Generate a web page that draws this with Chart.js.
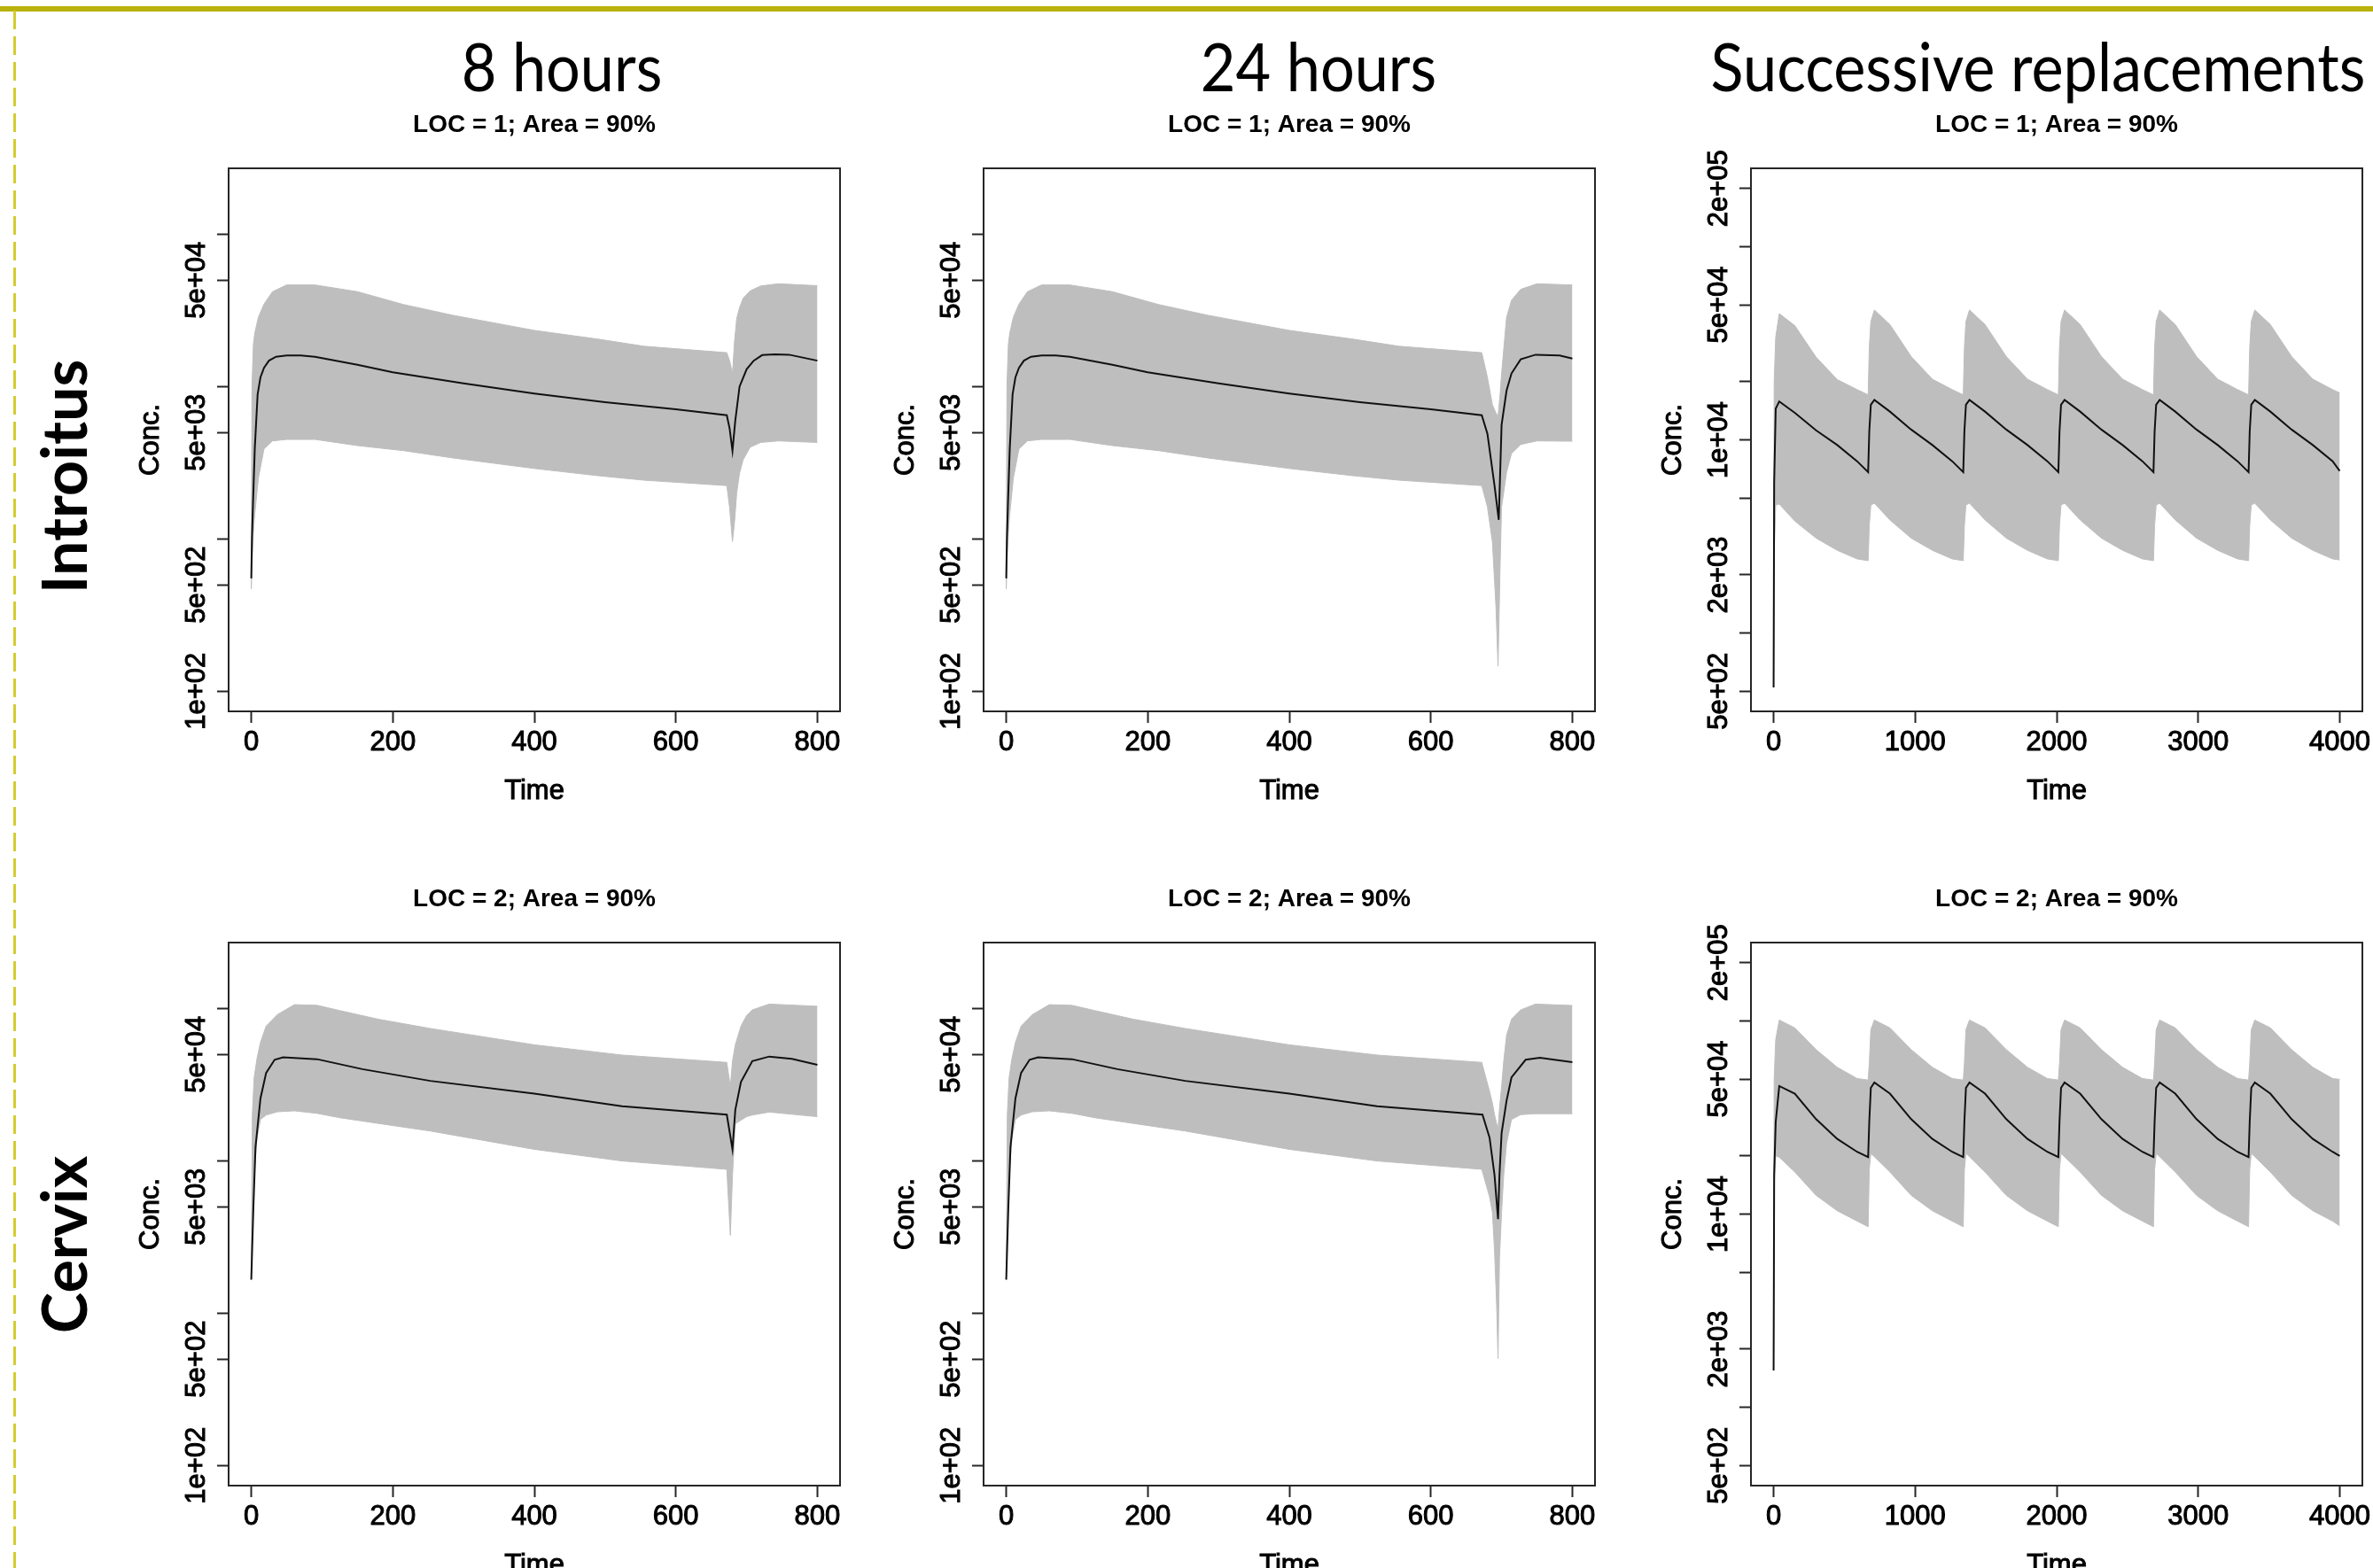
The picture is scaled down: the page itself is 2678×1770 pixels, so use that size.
<!DOCTYPE html>
<html>
<head>
<meta charset="utf-8">
<script src="https://cdn.jsdelivr.net/npm/chart.js@4.4.1/dist/chart.umd.min.js"></script>
<style>
  html, body { margin: 0; padding: 0; }
  body { width: 2678px; height: 1770px; overflow: hidden; position: relative; background: #fff; }
  .topline { position: absolute; left: 0; top: 7px; width: 2678px; height: 6px; background: #b8b20c; }
  .dashline { position: absolute; left: 15px; top: 12px; width: 3px; height: 1758px;
    background: repeating-linear-gradient(to bottom, #d3cd32 0px, #d3cd32 21px, transparent 21px, transparent 29px); }
  .coltitle { position: absolute; top: 36px; font-family: Lato, "Open Sans", sans-serif; font-size: 76px;
    line-height: 76px; white-space: nowrap; color: #000; transform: translateX(-50%) scaleX(0.9); }
  .rowlabel { position: absolute; font-family: Lato, "Open Sans", sans-serif; font-weight: 700; font-size: 70px;
    line-height: 70px; white-space: nowrap; color: #000; transform: translate(-50%, -50%) rotate(-90deg); }
</style>
</head>
<body>
<div class="topline"></div>
<div class="dashline"></div>
<div class="coltitle" style="left:634px">8 hours</div>
<div class="coltitle" style="left:1488px">24 hours</div>
<div class="coltitle" style="left:2300px">Successive replacements</div>
<div class="rowlabel" style="left:71px; top:538px">Introitus</div>
<div class="rowlabel" style="left:71px; top:1405px">Cervix</div>

<script>
/* ---------------------------------------------------------------------------
   Axis ticks and limits (R defaults: 4% range extension, log y axis)
   --------------------------------------------------------------------------- */
const hourTicks = [0, 200, 400, 600, 800];
const succTicks = [0, 1000, 2000, 3000, 4000];
const hourLimits = [0, 800];
const succLimits = [0, 4000];

const concTicksShort = [100, 500, 1000, 5000, 10000, 50000, 100000];
const concLabelsShort = ['1e+02', '5e+02', '', '5e+03', '', '5e+04', ''];
const concLimitsShort = [100, 200000];

const concTicksSucc = [500, 1000, 2000, 5000, 10000, 20000, 50000, 100000, 200000];
const concLabelsSucc = ['5e+02', '', '2e+03', '', '1e+04', '', '5e+04', '', '2e+05'];
const concLimitsSucc = [500, 200000];

/* ---------------------------------------------------------------------------
   Introitus (LOC = 1), 8 hours
   --------------------------------------------------------------------------- */
const intro8MedTime = [0, 1, 2.5, 5, 9, 13, 18, 25, 35, 50, 70, 90, 150, 200, 300, 400, 500, 600,
  672, 676, 680, 684, 690, 700, 710, 722, 740, 760, 800];
const intro8Median = [551, 1000, 1740, 3930, 8900, 11500, 13300, 14800, 15700, 16000, 16000, 15700,
  13900, 12400, 10500, 9000, 7900, 7100, 6490, 5300, 3790, 6000, 10000, 13000, 14800, 16100, 16300, 16200, 14800];
const intro8BandTime = [0, 1, 3, 5, 10, 18, 30, 50, 90, 150, 215, 285, 400, 490, 555, 672,
  676, 680, 683, 686, 690, 695, 705, 720, 745, 800];
const intro8Upper = [470, 10000, 19000, 22500, 28500, 34800, 42000, 46500, 46500, 42000, 34600, 29400,
  23400, 20500, 18400, 16700, 14800, 12200, 20000, 28000, 33000, 38000, 42500, 45800, 47300, 46000];
const intro8Lower = [470, 700, 1100, 1460, 2500, 3900, 4400, 4500, 4500, 4100, 3800, 3400,
  2900, 2600, 2430, 2240, 1600, 960, 1300, 2000, 2700, 3300, 4000, 4300, 4400, 4300];

/* Introitus (LOC = 1), 24 hours */
const intro24MedTime = [0, 1, 2.5, 5, 9, 13, 18, 25, 35, 50, 70, 90, 150, 200, 300, 400, 500, 600,
  672, 680, 690, 696, 700, 707, 714, 727, 748, 782, 800];
const intro24Median = [551, 1000, 1740, 3930, 8900, 11500, 13300, 14800, 15700, 16000, 16000, 15700,
  13900, 12400, 10500, 9000, 7900, 7100, 6490, 4900, 2240, 1335, 5600, 9400, 12200, 15100, 16200, 16000, 15300];
const intro24BandTime = [0, 1, 3, 5, 10, 18, 30, 50, 90, 150, 215, 285, 400, 490, 555, 672,
  680, 687, 692, 695, 698, 700, 707, 714, 727, 750, 800];
const intro24Upper = [470, 10000, 19000, 22500, 28500, 34800, 42000, 46500, 46500, 42000, 34600, 29400,
  23400, 20500, 18400, 16700, 11500, 7600, 6700, 6400, 9000, 12200, 28400, 36900, 43500, 47300, 46500];
const intro24Lower = [470, 700, 1100, 1460, 2500, 3900, 4400, 4500, 4500, 4100, 3800, 3400,
  2900, 2600, 2430, 2240, 1620, 960, 363, 146, 700, 1620, 2730, 3640, 4170, 4400, 4380];

/* Successive replacements: shared sampling times (ring changed every 672 h) */
const succTime = [0, 4, 15, 40, 150, 300, 450, 590, 668,
  676, 687, 712, 822, 972, 1122, 1262, 1340,
  1348, 1359, 1384, 1494, 1644, 1794, 1934, 2012,
  2020, 2031, 2056, 2166, 2316, 2466, 2606, 2684,
  2692, 2703, 2728, 2838, 2988, 3138, 3278, 3356,
  3364, 3375, 3400, 3510, 3660, 3810, 3950, 4000];

/* Introitus (LOC = 1), successive */
const introSuccMedian = [523, 6000, 14500, 15800, 13800, 11200, 9400, 7750, 6800,
  11000, 15200, 16100, 14000, 11300, 9400, 7750, 6800,
  11000, 15200, 16100, 14000, 11300, 9400, 7750, 6800,
  11000, 15200, 16100, 14000, 11300, 9400, 7750, 6800,
  11000, 15200, 16100, 14000, 11300, 9400, 7750, 6800,
  11000, 15200, 16100, 14000, 11300, 9400, 7750, 6900];
const introSuccUpper = [523, 20000, 34000, 45000, 39000, 26800, 20500, 18200, 17100,
  30000, 41000, 47000, 39500, 27000, 20600, 18200, 17100,
  30000, 41000, 47000, 39500, 27000, 20600, 18200, 17100,
  30000, 41000, 47000, 39500, 27000, 20600, 18200, 17100,
  30000, 41000, 47000, 39500, 27000, 20600, 18200, 17100,
  30000, 41000, 47000, 39500, 27000, 20600, 18200, 17500];
const introSuccLower = [523, 2500, 4600, 4650, 3800, 3100, 2680, 2420, 2370,
  3600, 4600, 4700, 3850, 3100, 2680, 2420, 2370,
  3600, 4600, 4700, 3850, 3100, 2680, 2420, 2370,
  3600, 4600, 4700, 3850, 3100, 2680, 2420, 2370,
  3600, 4600, 4700, 3850, 3100, 2680, 2420, 2370,
  3600, 4600, 4700, 3850, 3100, 2680, 2420, 2390];

/* ---------------------------------------------------------------------------
   Cervix (LOC = 2), 8 hours
   --------------------------------------------------------------------------- */
const cerv8MedTime = [0, 3, 6, 13, 21, 33, 45, 93, 157, 253, 400, 524, 672, 680, 684, 692, 708, 732, 764, 800];
const cerv8Median = [1660, 4940, 12300, 25700, 37800, 46100, 47800, 46500, 40000, 33500, 27600, 22800,
  20100, 11900, 21600, 33000, 45200, 48400, 46800, 42700];
const cerv8BandTime = [0, 1.5, 4, 8, 13, 21, 37, 61, 93, 125, 180, 253, 400, 524, 672, 677, 680, 684, 692,
  700, 708, 732, 800];
const cerv8Upper = [1660, 20000, 35000, 46700, 60000, 76600, 91300, 106000, 105000, 97000, 85000, 74000,
  57800, 49500, 44300, 30700, 45000, 57800, 76600, 90000, 98000, 107000, 103500];
const cerv8Lower = [1660, 4000, 8000, 14000, 18700, 20000, 21000, 21300, 20500, 19200, 17600, 15700,
  11900, 9980, 8800, 3240, 8000, 17500, 18500, 19500, 20000, 20900, 19500];

/* Cervix (LOC = 2), 24 hours */
const cerv24MedTime = [0, 3, 6, 13, 21, 33, 45, 93, 157, 253, 400, 524, 673, 683, 690, 695, 697, 700,
  707, 714, 734, 754, 800];
const cerv24Median = [1660, 4940, 12300, 25700, 37800, 46100, 47800, 46500, 40000, 33500, 27600, 22800,
  20100, 14200, 8070, 4140, 8070, 15200, 24800, 35300, 46100, 47500, 44500];
const cerv24BandTime = [0, 1.5, 4, 8, 13, 21, 37, 61, 93, 125, 180, 253, 400, 524, 672, 683, 687, 690, 693,
  695, 697, 700, 703, 707, 714, 727, 748, 800];
const cerv24Upper = [1660, 20000, 35000, 46700, 60000, 76600, 91300, 106000, 105000, 97000, 85000, 74000,
  57800, 49500, 44300, 28600, 24000, 20100, 17500, 16300, 22000, 30700, 45000, 66500, 85100, 98000, 107000, 104700];
const cerv24Lower = [1660, 4000, 8000, 14000, 18700, 20000, 21000, 21300, 20500, 19200, 17600, 15700,
  11900, 9980, 8800, 5800, 4600, 2600, 1130, 504, 2290, 4600, 8070, 13000, 18700, 20100, 20400, 20400];

/* Cervix (LOC = 2), successive */
const cervSuccMedian = [1550, 16000, 30000, 46000, 42000, 31000, 24500, 21000, 19700,
  30000, 45000, 48000, 42000, 31000, 24500, 21000, 19700,
  30000, 45000, 48000, 42000, 31000, 24500, 21000, 19700,
  30000, 45000, 48000, 42000, 31000, 24500, 21000, 19700,
  30000, 45000, 48000, 42000, 31000, 24500, 21000, 19700,
  30000, 45000, 48000, 42000, 31000, 24500, 21000, 20000];
const cervSuccUpper = [1550, 50000, 80000, 101000, 92000, 71000, 57500, 50300, 49400,
  60000, 90000, 101000, 92000, 71000, 57500, 50300, 49400,
  60000, 90000, 101000, 92000, 71000, 57500, 50300, 49400,
  60000, 90000, 101000, 92000, 71000, 57500, 50300, 49400,
  60000, 90000, 101000, 92000, 71000, 57500, 50300, 49400,
  60000, 90000, 101000, 92000, 71000, 57500, 50300, 49800];
const cervSuccLower = [1550, 14000, 20000, 19700, 16500, 12500, 10400, 9200, 8600,
  17000, 20600, 19800, 16500, 12500, 10400, 9200, 8600,
  17000, 20600, 19800, 16500, 12500, 10400, 9200, 8600,
  17000, 20600, 19800, 16500, 12500, 10400, 9200, 8600,
  17000, 20600, 19800, 16500, 12500, 10400, 9200, 8600,
  17000, 20600, 19800, 16500, 12500, 10400, 9200, 8700];

/* ---------------------------------------------------------------------------
   Drawing helpers
   --------------------------------------------------------------------------- */
const FONT = '"Liberation Sans", Arial, sans-serif';
const BAND = '#bebebe';
const INK = '#262626';

// R's default axis style: extend the data range by 4% on each side
function rRange(lo, hi, isLog) {
  if (isLog) {
    const a = Math.log10(lo), b = Math.log10(hi), d = (b - a) * 0.04;
    return [Math.pow(10, a - d), Math.pow(10, b + d)];
  }
  const d = (hi - lo) * 0.04;
  return [lo - d, hi + d];
}

const pts = (t, v) => t.map((x, i) => ({ x: x, y: v[i] }));

// slightly heavy text, like the upscaled R device output
function heavyText(ctx, txt, x, y, rot) {
  ctx.save();
  ctx.translate(x, y);
  if (rot) ctx.rotate(rot);
  ctx.lineWidth = 1;
  ctx.strokeStyle = '#000';
  ctx.strokeText(txt, 0, 0);
  ctx.fillText(txt, 0, 0);
  ctx.restore();
}

// plot frame, main title, axis titles and R-style rotated y tick labels
const rAxes = {
  id: 'rAxes',
  afterDraw(chart, args, opts) {
    const { ctx, chartArea: a } = chart;
    const ys = chart.scales.y;
    const cx = (a.left + a.right) / 2, cy = (a.top + a.bottom) / 2;
    ctx.save();
    ctx.strokeStyle = INK;
    ctx.lineWidth = 2;
    ctx.strokeRect(a.left, a.top, a.right - a.left, a.bottom - a.top);

    ctx.fillStyle = '#000';
    ctx.textAlign = 'center';
    ctx.textBaseline = 'middle';
    ctx.font = 'bold 28px ' + FONT;
    ctx.fillText(opts.title, cx, a.top - 49);

    ctx.font = '31px ' + FONT;
    heavyText(ctx, opts.xTitle, cx, a.bottom + 90, 0);
    heavyText(ctx, opts.yTitle, a.left - 88, cy, -Math.PI / 2);
    opts.ticks.forEach((v, i) => {
      if (!opts.labels[i]) return;
      heavyText(ctx, opts.labels[i], a.left - 36, ys.getPixelForValue(v), -Math.PI / 2);
    });
    ctx.restore();
  }
};

const tickGrid = {
  display: true,
  drawOnChartArea: false,
  drawTicks: true,
  tickLength: 13,
  tickWidth: 2,
  tickColor: INK
};

function renderPanel(box, p) {
  const cv = document.createElement('canvas');
  const W = box.w + 160, H = box.h + 195;
  cv.width = W;
  cv.height = H;
  cv.style.cssText = `position:absolute;left:${box.x - 120}px;top:${box.y - 80}px;width:${W}px;height:${H}px`;
  document.body.appendChild(cv);

  const xr = rRange(p.xLimits[0], p.xLimits[1], false);
  const yr = rRange(p.yLimits[0], p.yLimits[1], true);

  return new Chart(cv.getContext('2d'), {
    type: 'line',
    data: {
      datasets: [
        { data: pts(p.medTime, p.median), borderColor: '#111', borderWidth: 2, pointRadius: 0, fill: false },
        { data: pts(p.bandTime, p.lower), borderColor: BAND, borderWidth: 1, pointRadius: 0, fill: false },
        { data: pts(p.bandTime, p.upper), borderColor: BAND, borderWidth: 1, pointRadius: 0,
          backgroundColor: BAND, fill: 1 }
      ]
    },
    options: {
      responsive: false,
      animation: false,
      devicePixelRatio: 1,
      layout: { padding: { top: 80, right: 40, left: 0, bottom: 0 } },
      plugins: {
        legend: { display: false },
        tooltip: { enabled: false },
        rAxes: { title: p.title, xTitle: 'Time', yTitle: 'Conc.', ticks: p.yTicks, labels: p.yLabels }
      },
      scales: {
        x: {
          type: 'linear',
          bounds: 'data',
          min: xr[0],
          max: xr[1],
          afterBuildTicks: s => { s.ticks = p.xTicks.map(v => ({ value: v })); },
          afterFit: s => { s.height = 115; },
          grid: tickGrid,
          border: { display: false },
          ticks: {
            autoSkip: false, maxRotation: 0, minRotation: 0, padding: 4, color: '#000',
            textStrokeColor: '#000', textStrokeWidth: 1,
            font: { family: FONT, size: 31 },
            callback: v => String(v)
          }
        },
        y: {
          type: 'logarithmic',
          bounds: 'data',
          min: yr[0],
          max: yr[1],
          afterBuildTicks: s => { s.ticks = p.yTicks.map(v => ({ value: v })); },
          afterFit: s => { s.width = 120; },
          grid: tickGrid,
          border: { display: false },
          ticks: { display: false, autoSkip: false }
        }
      }
    },
    plugins: [rAxes]
  });
}

/* ---------------------------------------------------------------------------
   Layout: 2 rows x 3 columns of R panels on the slide
   --------------------------------------------------------------------------- */
const colX = [258, 1110, 1976];
const rowY = [190, 1064];
const BOX_W = 690, BOX_H = 613;

const shortAxes = { xTicks: hourTicks, xLimits: hourLimits, yTicks: concTicksShort,
  yLabels: concLabelsShort, yLimits: concLimitsShort };
const succAxes = { xTicks: succTicks, xLimits: succLimits, yTicks: concTicksSucc,
  yLabels: concLabelsSucc, yLimits: concLimitsSucc };

const panels = [
  [0, 0, Object.assign({ title: 'LOC = 1; Area = 90%', medTime: intro8MedTime, median: intro8Median,
    bandTime: intro8BandTime, upper: intro8Upper, lower: intro8Lower }, shortAxes)],
  [0, 1, Object.assign({ title: 'LOC = 1; Area = 90%', medTime: intro24MedTime, median: intro24Median,
    bandTime: intro24BandTime, upper: intro24Upper, lower: intro24Lower }, shortAxes)],
  [0, 2, Object.assign({ title: 'LOC = 1; Area = 90%', medTime: succTime, median: introSuccMedian,
    bandTime: succTime, upper: introSuccUpper, lower: introSuccLower }, succAxes)],
  [1, 0, Object.assign({ title: 'LOC = 2; Area = 90%', medTime: cerv8MedTime, median: cerv8Median,
    bandTime: cerv8BandTime, upper: cerv8Upper, lower: cerv8Lower }, shortAxes)],
  [1, 1, Object.assign({ title: 'LOC = 2; Area = 90%', medTime: cerv24MedTime, median: cerv24Median,
    bandTime: cerv24BandTime, upper: cerv24Upper, lower: cerv24Lower }, shortAxes)],
  [1, 2, Object.assign({ title: 'LOC = 2; Area = 90%', medTime: succTime, median: cervSuccMedian,
    bandTime: succTime, upper: cervSuccUpper, lower: cervSuccLower }, succAxes)]
];

panels.forEach(([r, c, p]) => {
  renderPanel({ x: colX[c], y: rowY[r], w: BOX_W, h: BOX_H }, p);
});
</script>
</body>
</html>
